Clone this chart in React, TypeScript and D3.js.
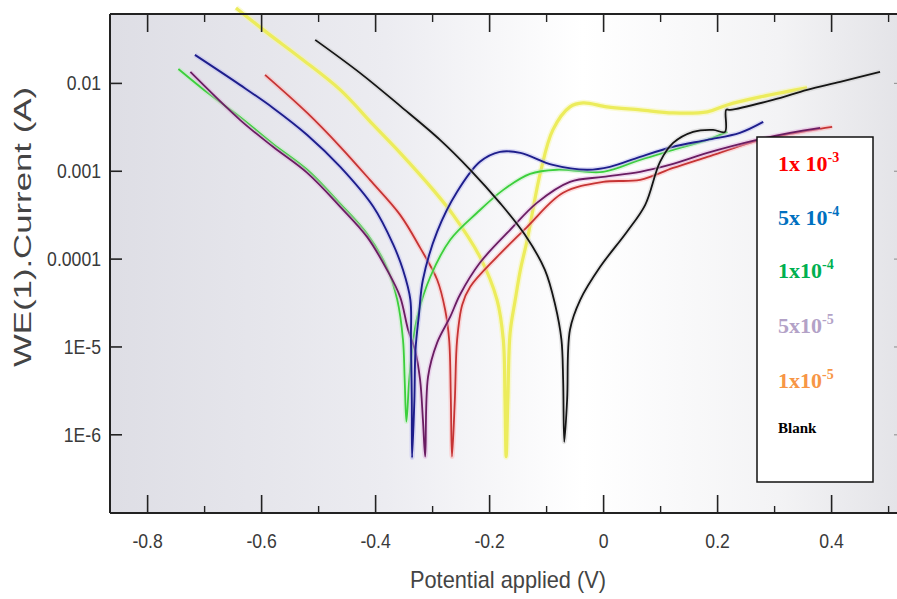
import React from 'react';
import * as d3 from 'd3';

// Tafel curves, [potential (V), current (A)]
const c1e3: [number, number][] = [
  [-0.594, 0.0125], [-0.52, 0.00461], [-0.462, 0.0019], [-0.41, 7.98e-4], [-0.357, 3.19e-4],
  [-0.322, 1.35e-4], [-0.292, 5.82e-5], [-0.278, 2.65e-5], [-0.271, 1.21e-5], [-0.268, 2.51e-6],
  [-0.266, 5.64e-7], [-0.261, 2.51e-6], [-0.257, 1.21e-5], [-0.248, 3.02e-5], [-0.234, 4.84e-5],
  [-0.187, 1.06e-4], [-0.134, 2.33e-4], [-0.071, 5.68e-4], [-0.001, 7.57e-4], [0.064, 7.98e-4],
  [0.122, 1.09e-3], [0.182, 1.46e-3], [0.269, 2.22e-3], [0.327, 2.66e-3], [0.401, 3.2e-3],
];
const c5e4: [number, number][] = [
  [-0.717, 0.0211], [-0.638, 0.00962], [-0.58, 0.00526], [-0.52, 0.00259], [-0.462, 1.12e-3],
  [-0.404, 3.94e-4], [-0.369, 1.46e-4], [-0.352, 7.55e-5], [-0.339, 3.44e-5], [-0.338, 1.21e-5],
  [-0.3365, 2.51e-6], [-0.336, 5.5e-7], [-0.332, 2.51e-6], [-0.33, 9.29e-6], [-0.324, 2.32e-5],
  [-0.317, 5.82e-5], [-0.292, 2.05e-4], [-0.257, 5.83e-4], [-0.217, 1.28e-3], [-0.182, 1.66e-3],
  [-0.146, 1.62e-3], [-0.089, 1.18e-3], [-0.029, 1.04e-3], [0.011, 1.12e-3], [0.064, 1.46e-3],
  [0.122, 1.9e-3], [0.182, 2.28e-3], [0.239, 2.74e-3], [0.28, 3.65e-3],
];
const c1e4: [number, number][] = [
  [-0.746, 0.0146], [-0.69, 0.0074], [-0.638, 0.00416], [-0.58, 0.00205], [-0.52, 1.04e-3],
  [-0.462, 4.26e-4], [-0.415, 1.94e-4], [-0.38, 7.96e-5], [-0.362, 3.44e-5], [-0.352, 1.21e-5],
  [-0.349, 4.24e-6], [-0.346, 1.41e-6], [-0.341, 4.24e-6], [-0.334, 1.21e-5], [-0.326, 2.32e-5],
  [-0.304, 6.3e-5], [-0.269, 1.66e-4], [-0.222, 3.37e-4], [-0.176, 6.14e-4], [-0.129, 9.33e-4],
  [-0.082, 1.04e-3], [-0.001, 9.84e-4], [0.064, 1.35e-3], [0.122, 1.75e-3], [0.182, 2.28e-3],
  [0.217, 2.81e-3],
];
const c5e5: [number, number][] = [
  [-0.725, 0.0135], [-0.638, 0.00385], [-0.58, 0.0019], [-0.52, 9.59e-4], [-0.462, 3.94e-4],
  [-0.415, 1.79e-4], [-0.38, 7.55e-5], [-0.357, 3.72e-5], [-0.343, 1.57e-5], [-0.331, 9.29e-6],
  [-0.322, 4.24e-6], [-0.317, 1.49e-6], [-0.313, 5.64e-7], [-0.308, 4.58e-6], [-0.292, 1.12e-5],
  [-0.269, 2.21e-5], [-0.252, 3.93e-5], [-0.217, 9.08e-5], [-0.164, 2.15e-4], [-0.117, 4.37e-4],
  [-0.059, 7.57e-4], [-0.001, 8.63e-4], [0.064, 9.84e-4], [0.122, 1.21e-3], [0.182, 1.62e-3],
  [0.269, 2.28e-3], [0.327, 2.74e-3], [0.38, 3.12e-3],
];
const c1e5: [number, number][] = [
  [-0.645, 0.0723], [-0.59, 0.0376], [-0.532, 0.0195], [-0.462, 0.00843], [-0.404, 0.00337],
  [-0.357, 0.00162], [-0.299, 6.14e-4], [-0.264, 3.19e-4], [-0.217, 1.06e-4], [-0.187, 3.44e-5],
  [-0.176, 1.21e-5], [-0.173, 2.51e-6], [-0.171, 5.64e-7], [-0.168, 2.51e-6], [-0.164, 1.45e-5],
  [-0.155, 3.44e-5], [-0.146, 7.55e-5], [-0.134, 1.66e-4], [-0.111, 9.59e-4], [-0.089, 2.96e-3],
  [-0.059, 5.41e-3], [-0.036, 6.0e-3], [0.006, 5.41e-3], [0.064, 5.0e-3], [0.122, 4.61e-3],
  [0.182, 4.74e-3], [0.217, 5.69e-3], [0.275, 7.02e-3], [0.357, 8.89e-3],
];
const blank: [number, number][] = [
  [-0.506, 0.0313], [-0.427, 0.0131], [-0.357, 0.00555], [-0.287, 0.00228], [-0.234, 1.04e-3],
  [-0.182, 4.37e-4], [-0.138, 1.89e-4], [-0.103, 7.55e-5], [-0.085, 3.02e-5], [-0.074, 1.21e-5],
  [-0.071, 4.24e-6], [-0.069, 8.3e-7], [-0.064, 2.51e-6], [-0.059, 1.57e-5], [-0.041, 3.44e-5],
  [-0.006, 8.17e-5], [0.041, 2.05e-4], [0.073, 4.15e-4], [0.099, 1.28e-3], [0.122, 2.1e-3],
  [0.157, 2.81e-3], [0.192, 2.96e-3], [0.213, 2.81e-3], [0.215, 5.0e-3], [0.222, 5.0e-3],
  [0.297, 6.49e-3], [0.357, 8.43e-3], [0.415, 0.0104], [0.485, 0.0135],
];

const xTicks = [-0.8, -0.6, -0.4, -0.2, 0, 0.2, 0.4];
const xTickLabels = ['-0.8', '-0.6', '-0.4', '-0.2', '0', '0.2', '0.4'];
const xMinor = [-0.7, -0.5, -0.3, -0.1, 0.1, 0.3, 0.5];
const yTicks = [1e-2, 1e-3, 1e-4, 1e-5, 1e-6];
const yTickLabels = ['0.01', '0.001', '0.0001', '1E-5', '1E-6'];
const legendBase = ['1x 10', '5x 10', '1x10', '5x10', '1x10', 'Blank'];
const legendExp = ['-3', '-4', '-4', '-5', '-5', ''];
const legendColors = ['#ff0000', '#0070c0', '#00b050', '#b3a2c7', '#f79646', '#000000'];

const W = 897;
const H = 599;
const left = 110, top = 14, bottom = 513, right = 900;
const axisFont = "'Liberation Sans Narrow', 'Arial Narrow', 'Liberation Sans', Arial, sans-serif";

export default function App() {
  const x = d3.scaleLinear().domain([-0.866, 0.52]).range([left, right]);
  const y = d3.scaleLog().domain([Math.pow(10, -6.89), Math.pow(10, -1.21)]).range([bottom, top]);
  const line = d3.line<[number, number]>()
    .x(d => x(d[0]))
    .y(d => y(d[1]))
    .curve(d3.curveCatmullRom.alpha(0.5));

  // drawing order: back to front
  const series = [
    { data: c1e5, color: '#ecec5c', width: 3.2, glow: '#f6f6a0' },
    { data: c1e3, color: '#c63434', width: 1.8, glow: '#ffb0b0' },
    { data: c1e4, color: '#3ccf3c', width: 1.8, glow: '#b8f0b8' },
    { data: c5e5, color: '#6a1d62', width: 1.8, glow: '#e0b0e0' },
    { data: c5e4, color: '#1e1e8c', width: 1.9, glow: '#b8b8f0' },
    { data: blank, color: '#151515', width: 1.8, glow: '#c8c8c8' },
  ];

  return (
    <div style={{ position: 'absolute', left: 0, top: 0 }}>
      <svg width={W} height={H} style={{ display: 'block', background: '#fff' }}>
        <defs>
          <linearGradient id="bg" x1="0" x2="1" y1="0" y2="0">
            <stop offset="0" stopColor="#dedee5" />
            <stop offset="0.35" stopColor="#ececf1" />
            <stop offset="0.6" stopColor="#ffffff" />
            <stop offset="0.85" stopColor="#f3f3f5" />
            <stop offset="1" stopColor="#e4e4e8" />
          </linearGradient>
        </defs>
        <rect x={left} y={top} width={W - left} height={bottom - top} fill="url(#bg)" />

        {series.map((s, i) => (
          <g key={i}>
            <path d={line(s.data) || ''} fill="none" stroke={s.glow} strokeWidth={s.width + 3}
              strokeOpacity={0.45} strokeLinejoin="round" />
            <path d={line(s.data) || ''} fill="none" stroke={s.color} strokeWidth={s.width}
              strokeLinejoin="round" />
          </g>
        ))}

        {/* frame */}
        <line x1={left} x2={W} y1={top} y2={top} stroke="#222" strokeWidth={2} />
        <line x1={left} x2={W} y1={bottom} y2={bottom} stroke="#222" strokeWidth={2} />
        <line x1={left} x2={left} y1={top} y2={bottom} stroke="#222" strokeWidth={2} />

        {xTicks.map((t, i) => (
          <g key={'xt' + i}>
            <line x1={x(t)} x2={x(t)} y1={bottom} y2={bottom - 18} stroke="#222" strokeWidth={1.6} />
            <line x1={x(t)} x2={x(t)} y1={top} y2={top + 18} stroke="#222" strokeWidth={1.6} />
            <text transform={`translate(${x(t)},548) scale(0.84,1)`} textAnchor="middle"
              fontFamily={axisFont} fontSize={21} fill="#3a3a3a">
              {xTickLabels[i]}
            </text>
          </g>
        ))}
        {xMinor.map((t, i) => (
          <g key={'xm' + i}>
            <line x1={x(t)} x2={x(t)} y1={bottom} y2={bottom - 7} stroke="#222" strokeWidth={1.4} />
            <line x1={x(t)} x2={x(t)} y1={top} y2={top + 8} stroke="#222" strokeWidth={1.4} />
          </g>
        ))}
        {yTicks.map((t, i) => (
          <g key={'yt' + i}>
            <line x1={left} x2={left + 12} y1={y(t)} y2={y(t)} stroke="#222" strokeWidth={1.6} />
            <line x1={894} x2={906} y1={y(t)} y2={y(t)} stroke="#999" strokeWidth={1.2} />
            <text transform={`translate(101,${y(t) + 7}) scale(0.84,1)`} textAnchor="end"
              fontFamily={axisFont} fontSize={21} fill="#3a3a3a">
              {yTickLabels[i]}
            </text>
          </g>
        ))}

        <text x={508} y={588} textAnchor="middle" fontFamily={axisFont} fontSize={24} fill="#444"
          textLength={196} lengthAdjust="spacingAndGlyphs">
          Potential applied (V)
        </text>
        <text transform="translate(31,227) rotate(-90)" textAnchor="middle" fontFamily={axisFont}
          fontSize={24} fill="#444" textLength={280} lengthAdjust="spacingAndGlyphs">
          WE(1).Current (A)
        </text>

        {/* legend */}
        <rect x={757} y={137} width={116} height={345} fill="#fff" stroke="#111" strokeWidth={1.5} />
        {legendBase.map((b, i) => {
          const isBlank = legendExp[i] === '';
          const baseY = [171, 225, 278, 333, 388, 433][i];
          return (
            <text key={'lg' + i} x={778} y={baseY} fontFamily="'Liberation Serif', 'Times New Roman', serif"
              fontWeight="bold" fontSize={isBlank ? 15 : 22} fill={legendColors[i]}>
              {b}
              {!isBlank && <tspan dy={-9} fontSize={14}>{legendExp[i]}</tspan>}
            </text>
          );
        })}
      </svg>
    </div>
  );
}
